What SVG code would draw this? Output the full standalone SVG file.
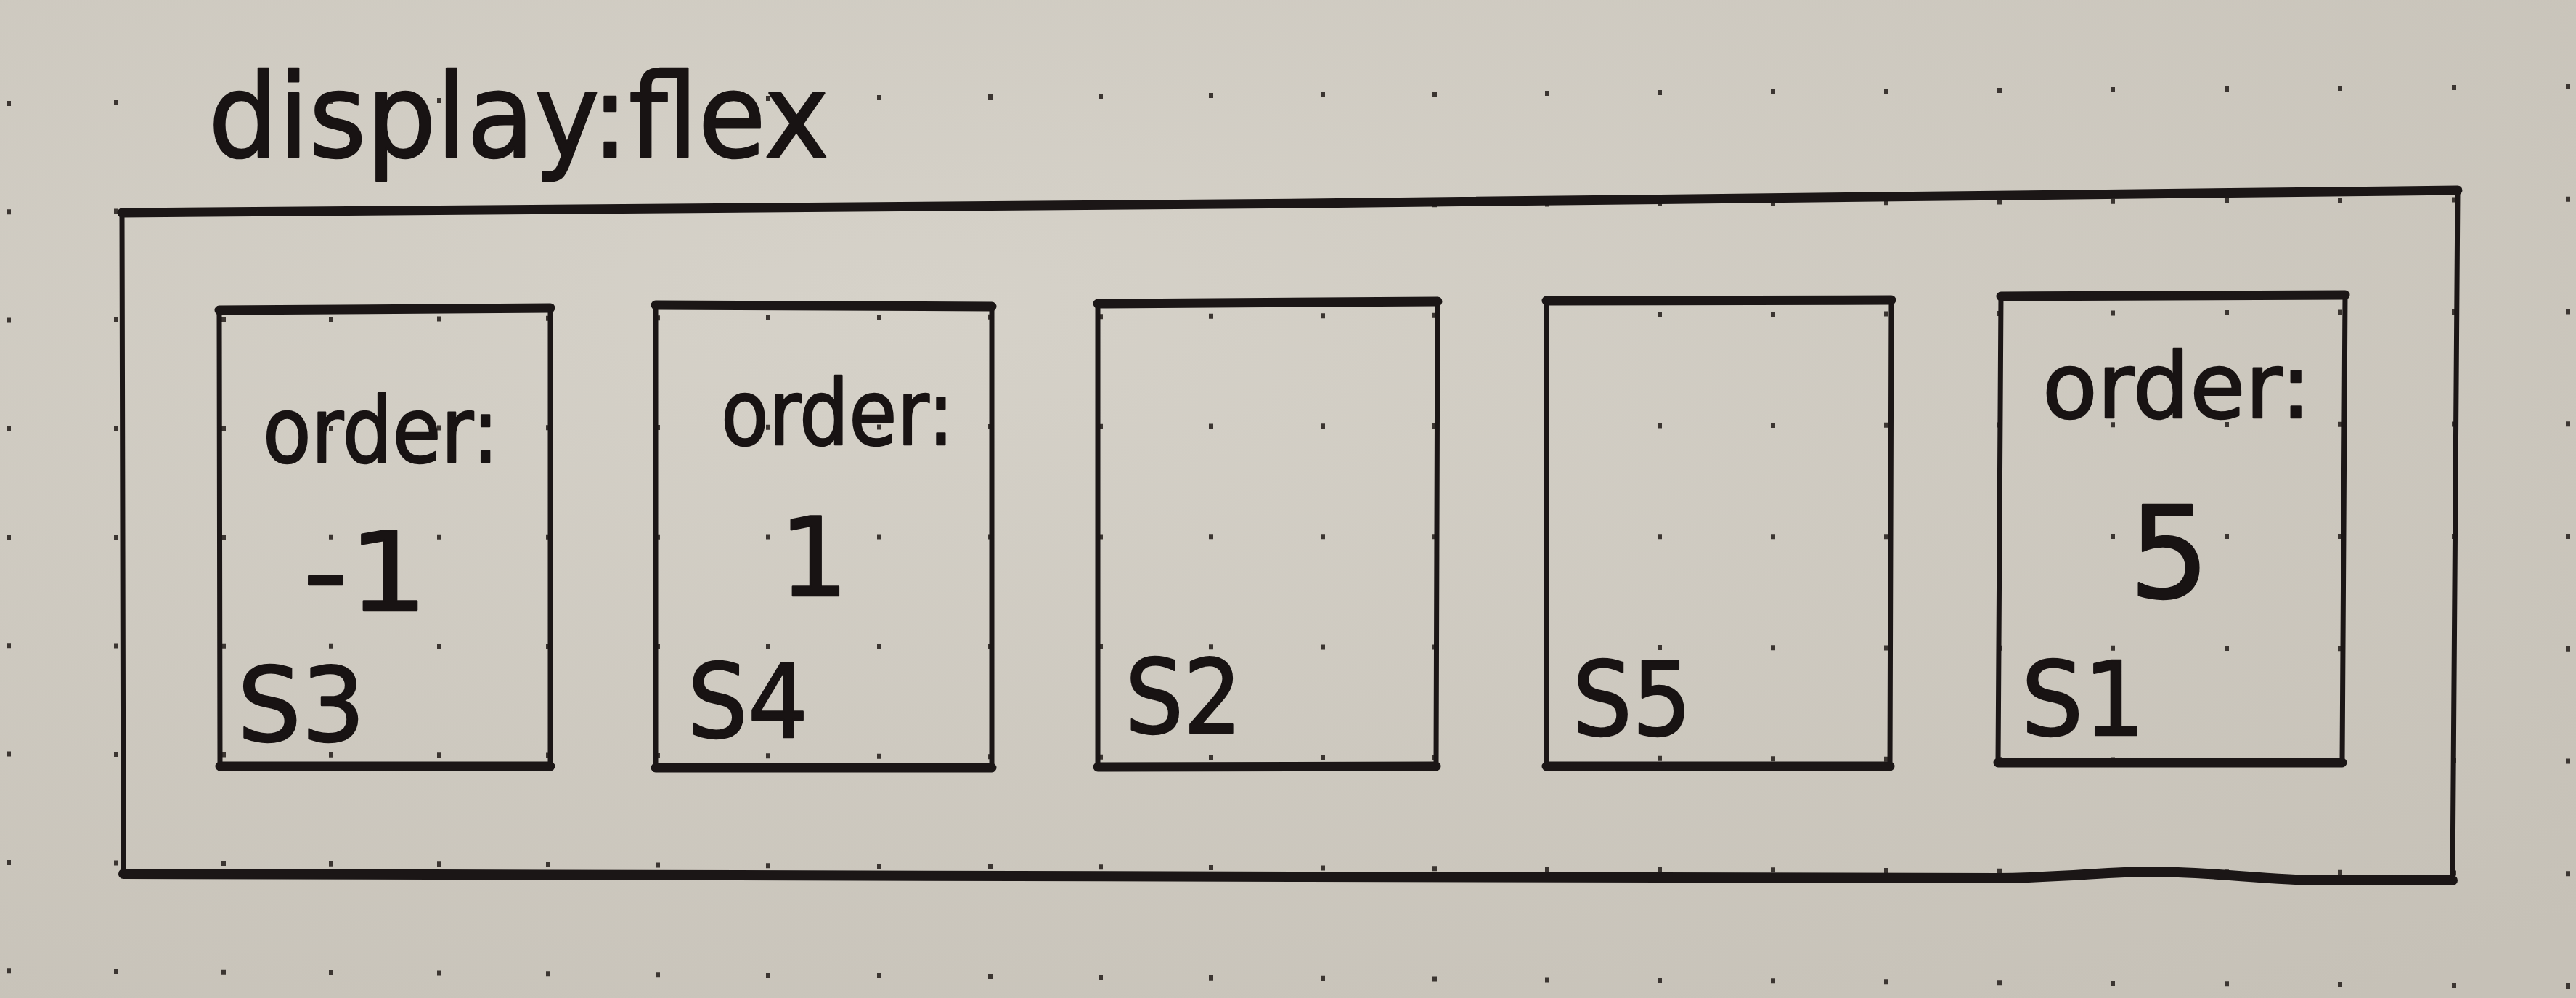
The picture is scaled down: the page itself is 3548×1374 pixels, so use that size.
<svg xmlns="http://www.w3.org/2000/svg" width="3548" height="1374" viewBox="0 0 3548 1374">
<defs>
<radialGradient id="paper" cx="0.35" cy="0.3" r="0.9">
<stop offset="0" stop-color="#d6d2c9"/>
<stop offset="1" stop-color="#c6c1b7"/>
</radialGradient>
</defs>
<style>
.ink{fill:none;stroke:#1b1616;stroke-linecap:round;stroke-linejoin:round}
.side{stroke-width:7}
.edge{stroke-width:13}
.txt{font-family:"DejaVu Sans","Liberation Sans",sans-serif;fill:#181313;stroke:#181313;stroke-width:2.5;stroke-linejoin:round}
.dot{stroke:#3b3531;stroke-width:6;fill:none}
</style>
<rect width="3548" height="1374" fill="url(#paper)"/>
<g id="dot-grid" class="dot">
<line x1="12" y1="139" x2="12" y2="1374" stroke-dasharray="7 142.27"/>
<line x1="160" y1="138" x2="160" y2="1374" stroke-dasharray="7 142.5"/>
<line x1="308" y1="137" x2="308" y2="1374" stroke-dasharray="7 142.73"/>
<line x1="456" y1="136" x2="456" y2="1374" stroke-dasharray="7 142.96"/>
<line x1="605" y1="135" x2="605" y2="1374" stroke-dasharray="7 143.19"/>
<line x1="755" y1="134" x2="755" y2="1374" stroke-dasharray="7 143.42"/>
<line x1="906" y1="133" x2="906" y2="1374" stroke-dasharray="7 143.66"/>
<line x1="1058" y1="132" x2="1058" y2="1374" stroke-dasharray="7 143.89"/>
<line x1="1211" y1="131" x2="1211" y2="1374" stroke-dasharray="7 144.13"/>
<line x1="1364" y1="130" x2="1364" y2="1374" stroke-dasharray="7 144.37"/>
<line x1="1516" y1="129" x2="1516" y2="1374" stroke-dasharray="7 144.61"/>
<line x1="1668" y1="128" x2="1668" y2="1374" stroke-dasharray="7 144.84"/>
<line x1="1822" y1="127" x2="1822" y2="1374" stroke-dasharray="7 145.08"/>
<line x1="1976" y1="126" x2="1976" y2="1374" stroke-dasharray="7 145.32"/>
<line x1="2131" y1="125" x2="2131" y2="1374" stroke-dasharray="7 145.56"/>
<line x1="2286" y1="124" x2="2286" y2="1374" stroke-dasharray="7 145.8"/>
<line x1="2442" y1="123" x2="2442" y2="1374" stroke-dasharray="7 146.04"/>
<line x1="2598" y1="122" x2="2598" y2="1374" stroke-dasharray="7 146.29"/>
<line x1="2754" y1="121" x2="2754" y2="1374" stroke-dasharray="7 146.53"/>
<line x1="2910" y1="120" x2="2910" y2="1374" stroke-dasharray="7 146.77"/>
<line x1="3067" y1="119" x2="3067" y2="1374" stroke-dasharray="7 147.02"/>
<line x1="3223" y1="118" x2="3223" y2="1374" stroke-dasharray="7 147.26"/>
<line x1="3380" y1="117" x2="3380" y2="1374" stroke-dasharray="7 147.5"/>
<line x1="3537" y1="116" x2="3537" y2="1374" stroke-dasharray="7 147.75"/>
</g>
<g id="title">
<text class="txt" x="287" y="216" font-size="160" textLength="855" lengthAdjust="spacingAndGlyphs">display:flex</text>
</g>
<g id="container">
<path class="ink side" d="M168 293 L170 1203 M3385 262 L3378 1212"/>
<path class="ink edge" d="M168 293 L1800 280 L3385 262"/>
<path class="ink" stroke-width="14" d="M170 1203 L1800 1207 L2750 1209 C2850 1208 2900 1200 2960 1200 C3050 1200 3120 1212 3200 1212 L3378 1212"/>
</g>
<g id="connectors"></g>
<g id="item-s3">
<path class="ink side" d="M302 427 L303 1055 M758 424 L758 1055"/>
<path class="ink edge" d="M302 427 L758 424 M303 1055 L758 1055"/>
<text class="txt" x="362" y="636" font-size="125" textLength="325" lengthAdjust="spacingAndGlyphs">order:</text>
<text class="txt" x="417" y="840" font-size="150" textLength="173" lengthAdjust="spacingAndGlyphs">-1</text>
<text class="txt" x="327" y="1020" font-size="140" textLength="176" lengthAdjust="spacingAndGlyphs">S3</text>
</g>
<g id="item-s4">
<path class="ink side" d="M903 420 L903 1057 M1366 422 L1366 1057"/>
<path class="ink edge" d="M903 420 L1366 422 M903 1057 L1366 1057"/>
<text class="txt" x="993" y="612" font-size="125" textLength="321" lengthAdjust="spacingAndGlyphs">order:</text>
<text class="txt" x="1121" y="820" font-size="150" text-anchor="middle">1</text>
<text class="txt" x="947" y="1015" font-size="140" textLength="166" lengthAdjust="spacingAndGlyphs">S4</text>
</g>
<g id="item-s2">
<path class="ink side" d="M1512 418 L1512 1056 M1980 415 L1978 1055"/>
<path class="ink edge" d="M1512 418 L1980 415 M1512 1056 L1978 1055"/>
<text class="txt" x="1550" y="1009" font-size="140" textLength="160" lengthAdjust="spacingAndGlyphs">S2</text>
</g>
<g id="item-s5">
<path class="ink side" d="M2130 414 L2130 1055 M2605 413 L2603 1055"/>
<path class="ink edge" d="M2130 414 L2605 413 M2130 1055 L2603 1055"/>
<text class="txt" x="2166" y="1012" font-size="140" textLength="164" lengthAdjust="spacingAndGlyphs">S5</text>
</g>
<g id="item-s1">
<path class="ink side" d="M2756 408 L2752 1050 M3230 406 L3226 1050"/>
<path class="ink edge" d="M2756 408 L3230 406 M2752 1050 L3226 1050"/>
<text class="txt" x="2813" y="575" font-size="125" textLength="370" lengthAdjust="spacingAndGlyphs">order:</text>
<text class="txt" x="2988" y="823" font-size="175" text-anchor="middle">5</text>
<text class="txt" x="2784" y="1012" font-size="140" textLength="171" lengthAdjust="spacingAndGlyphs">S1</text>
</g>
</svg>
